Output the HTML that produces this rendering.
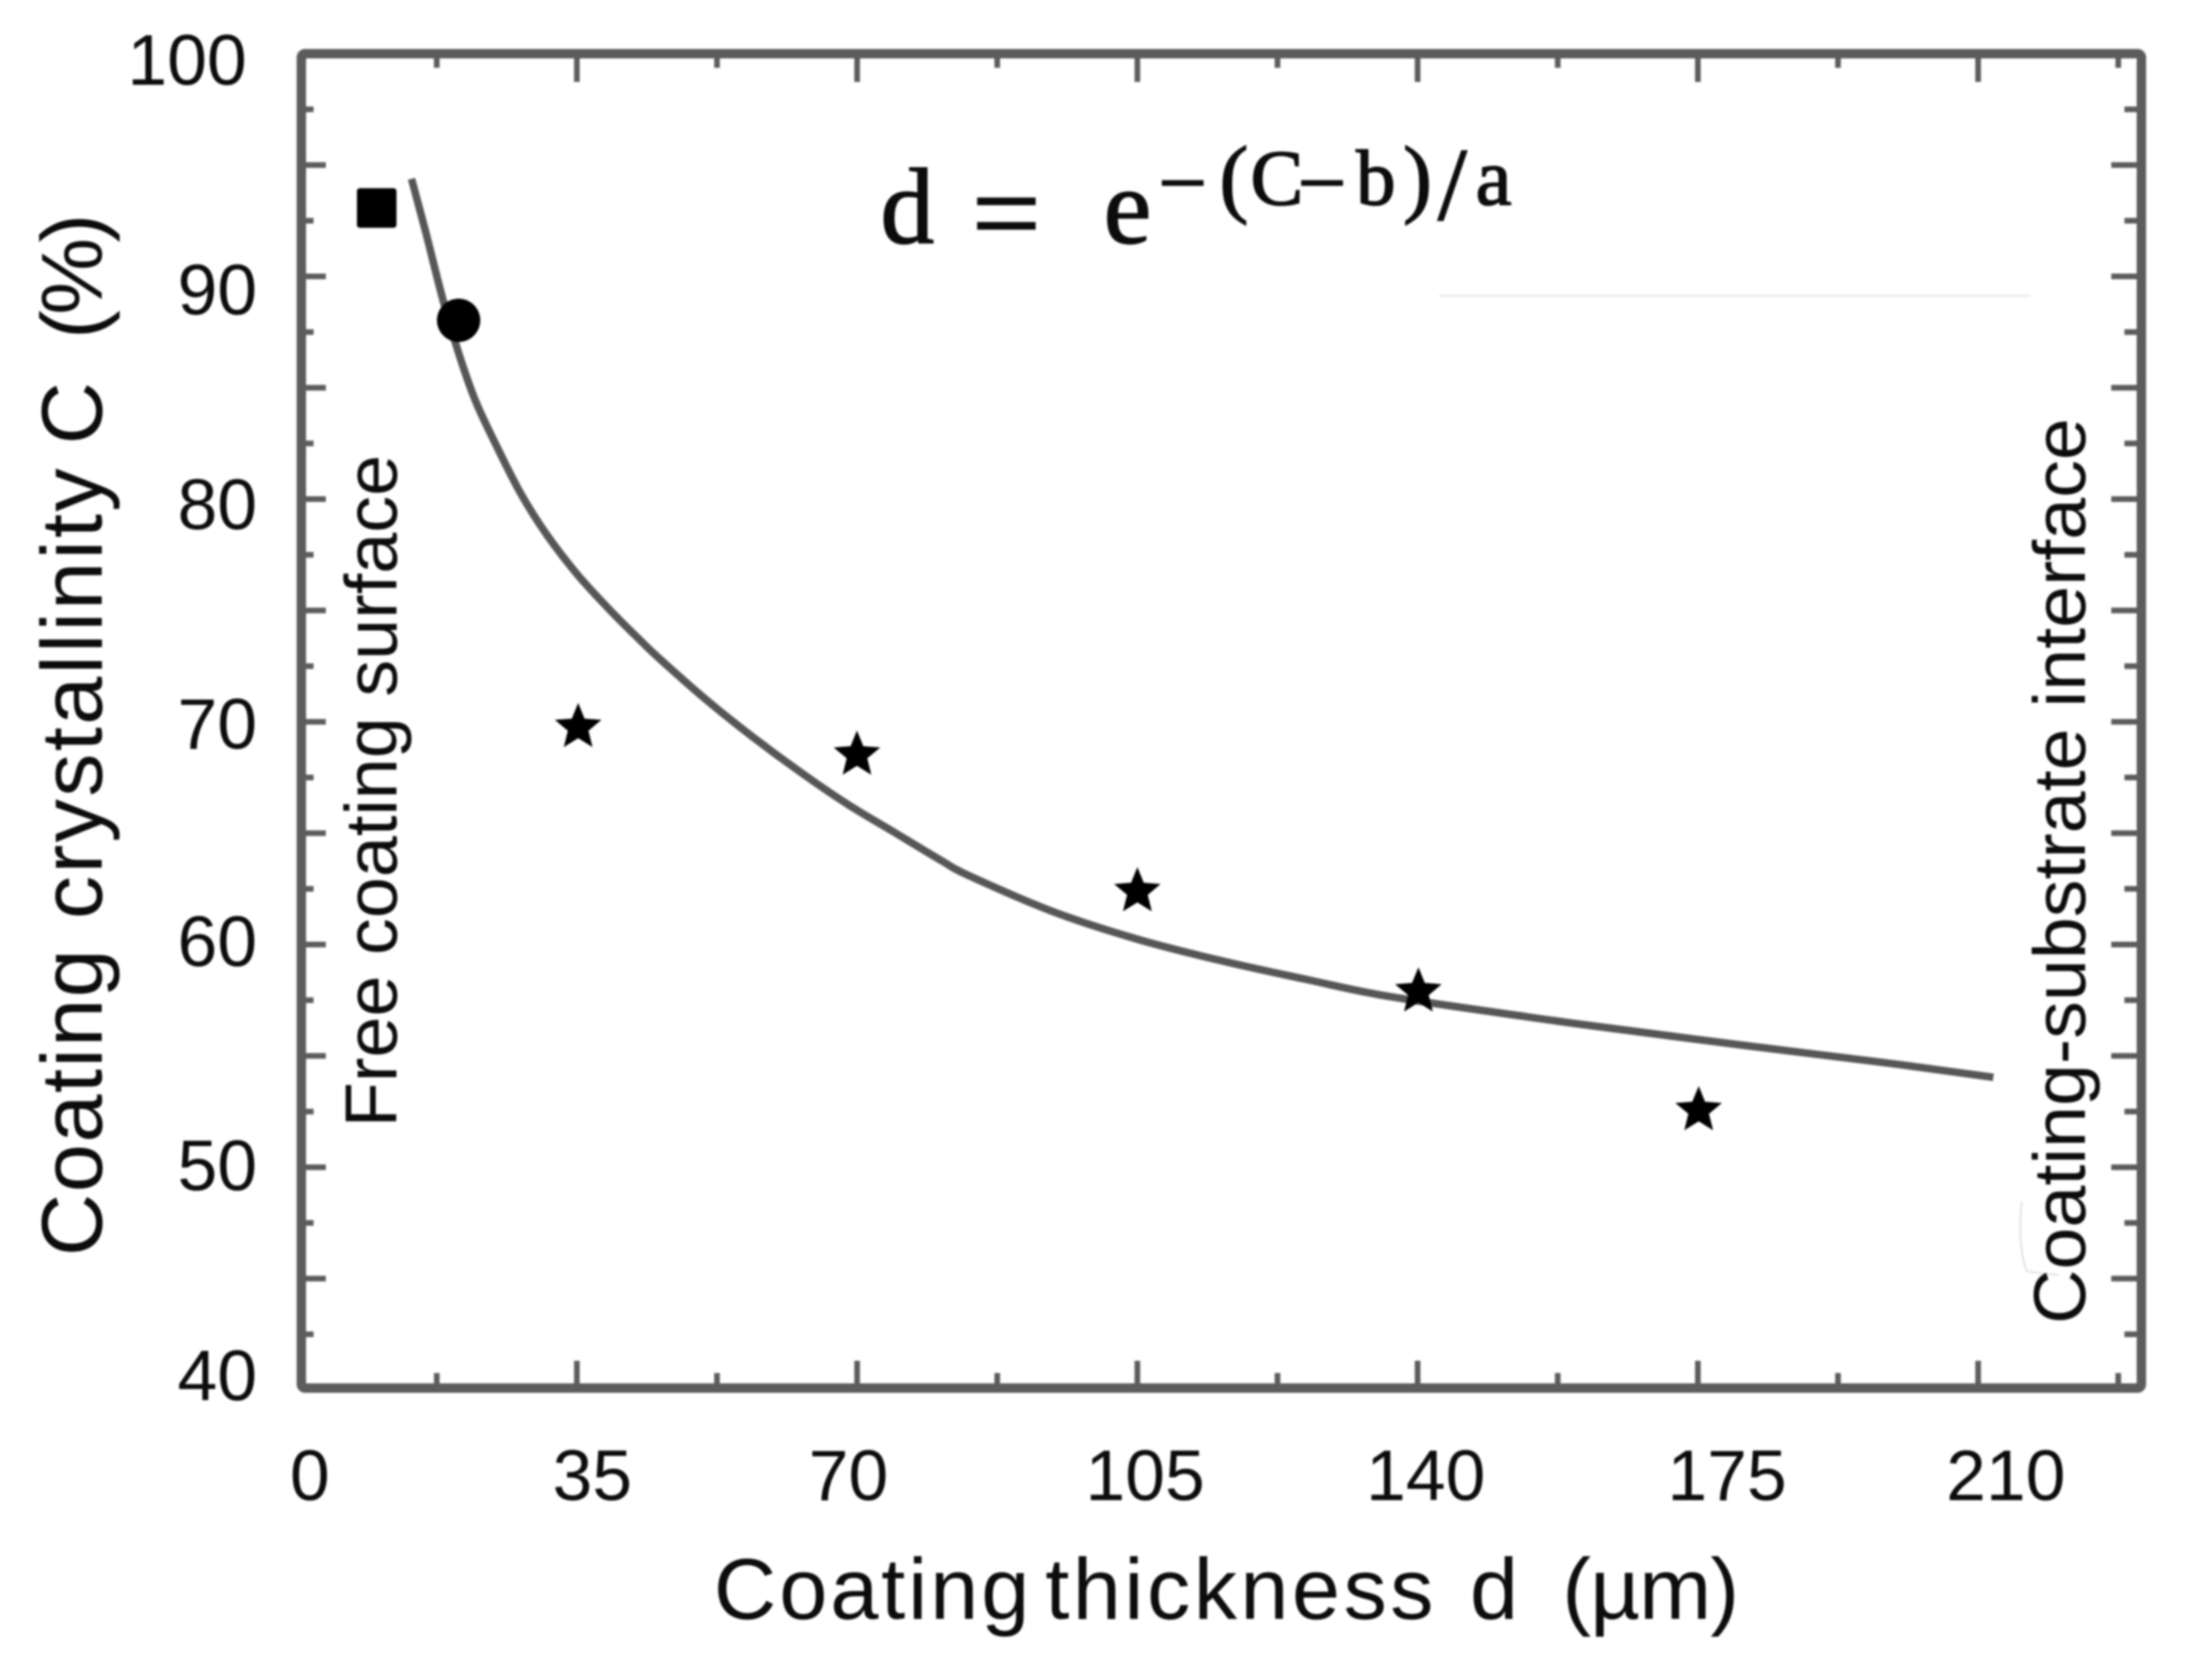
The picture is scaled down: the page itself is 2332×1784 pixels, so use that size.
<!DOCTYPE html>
<html lang="en">
<head>
<meta charset="utf-8">
<title>Coating crystallinity vs coating thickness</title>
<style>
  html, body { margin: 0; padding: 0; background: #fff; }
  body { width: 2332px; height: 1784px; overflow: hidden; }
  svg { display: block; filter: blur(1.1px); }
  text { font-family: "Liberation Sans", sans-serif; fill: #0c0c0c; }
  .formula { font-family: "Liberation Serif", serif; stroke: #0c0c0c; stroke-width: 1.6px; }
  .tick-label { font-size: 76px; }
</style>
</head>
<body>
<svg id="chart" xmlns="http://www.w3.org/2000/svg" width="2332" height="1784" viewBox="0 0 2332 1784">
  <rect x="0" y="0" width="2332" height="1784" fill="#fff"/>
  <g id="ticks"></g>
  <rect x="320" y="57" width="1954" height="1417" rx="4" fill="none" stroke="#5c5c5c" stroke-width="10"/>

  <line x1="1528" y1="314" x2="2156" y2="314" stroke="#efefef" stroke-width="3"/>
  <path d="M2147 1276 Q2142 1320 2152 1350 L2186 1354" fill="none" stroke="#e4e4e4" stroke-width="2"/>

  <g class="tick-label" text-anchor="end">
    <text x="262" y="90">100</text>
    <text x="273" y="334">90</text>
    <text x="273" y="562">80</text>
    <text x="273" y="795">70</text>
    <text x="273" y="1026">60</text>
    <text x="273" y="1264">50</text>
    <text x="273" y="1487">40</text>
  </g>
  <g class="tick-label" text-anchor="middle">
    <text x="329" y="1593">0</text>
    <text x="629" y="1593">35</text>
    <text x="901" y="1593">70</text>
    <text x="1216" y="1593">105</text>
    <text x="1514" y="1593">140</text>
    <text x="1834" y="1593">175</text>
    <text x="2130" y="1593">210</text>
  </g>

  <text y="1719" font-size="92"><tspan x="758" letter-spacing="3">Coating</tspan><tspan x="1110" letter-spacing="3.6">thickness</tspan><tspan x="1561">d</tspan><tspan x="1659" letter-spacing="-1">(µm)</tspan></text>

  <text transform="translate(108,1330) rotate(-90)" font-size="92"><tspan x="-4" letter-spacing="1.5">Coating</tspan><tspan x="354" letter-spacing="2.4">crystallinity</tspan><tspan x="858">C</tspan><tspan x="970" letter-spacing="-5">(%)</tspan></text>

  <text transform="translate(421,1197) rotate(-90)" font-size="78" textLength="714" lengthAdjust="spacingAndGlyphs">Free coating surface</text>
  <text transform="translate(2214,1406) rotate(-90)" font-size="78" textLength="962" lengthAdjust="spacingAndGlyphs">Coating-substrate interface</text>

  <text class="formula"><tspan x="935" y="258" font-size="114">d</tspan><tspan x="1032" y="270" font-size="130">=</tspan><tspan x="1172" y="258" font-size="114">e</tspan><tspan x="1230" y="225" font-size="92">−</tspan><tspan x="1295" y="219" font-size="92">(</tspan><tspan x="1328" y="217" font-size="84">C</tspan><tspan x="1378" y="225" font-size="92">−</tspan><tspan x="1440" y="217" font-size="84">b</tspan><tspan x="1490" y="219" font-size="92">)</tspan><tspan x="1527" y="233" font-size="110">/</tspan><tspan x="1567" y="217" font-size="86">a</tspan></text>

  <g id="series"></g>
</svg>
<script>
// ---- chart data ----
const xMajorTicks = [35, 70, 105, 140, 175, 210];
const xMinorTicks = [17.5, 52.5, 87.5, 122.5, 157.5, 192.5, 227.5];
const yMajorTicks = [95, 90, 85, 80, 75, 70, 65, 60, 55, 50, 45];
const yMinorTicks = [97.5, 92.5, 87.5, 82.5, 77.5, 72.5, 67.5, 62.5, 57.5, 52.5, 47.5, 42.5];

const curveThickness = [14.35, 16.23, 18.23, 20.35, 22.35, 24.93, 27.99, 31.17, 35.05, 39.05, 42.57, 45.28, 51.16, 57.04, 62.92, 68.80, 74.68, 80.56, 83.97, 94.44, 104.9, 115.4, 126.0, 136.4, 153.8, 162.9, 180.1, 198.2, 211.9];
const curveCrystallinity = [94.38, 91.84, 89.01, 86.43, 84.40, 82.41, 80.25, 78.44, 76.62, 75.05, 73.78, 72.85, 70.99, 69.30, 67.74, 66.30, 65.03, 63.76, 63.09, 61.48, 60.25, 59.28, 58.44, 57.67, 56.75, 56.30, 55.50, 54.70, 54.04];

const squareThickness = [10];
const squareCrystallinity = [93.07];
const circleThickness = [20.23];
const circleCrystallinity = [88.03];
const starThickness = [35.16, 69.98, 105.0, 140.1, 175.1];
const starCrystallinity = [69.75, 68.51, 62.38, 57.88, 52.55];

// ---- axis functions ----
function xScale(d) { return 315 + d * 8.503; }
function yScale(c) { return 57 + (100 - c) * 23.65; }

const NS = 'http://www.w3.org/2000/svg';
const ticksGroup = document.getElementById('ticks');
const seriesGroup = document.getElementById('series');

function addTick(x1, y1, x2, y2, name) {
  const tick = document.createElementNS(NS, 'line');
  tick.setAttribute('x1', x1);
  tick.setAttribute('y1', y1);
  tick.setAttribute('x2', x2);
  tick.setAttribute('y2', y2);
  tick.setAttribute('stroke', '#5c5c5c');
  tick.setAttribute('stroke-width', '6');
  
  
  ticksGroup.appendChild(tick);
}

xMajorTicks.forEach(function (v) {
  addTick(xScale(v), 1474, xScale(v), 1445, 'x-major-tick-bottom');
  addTick(xScale(v), 57, xScale(v), 87, 'x-major-tick-top');
});
xMinorTicks.forEach(function (v) {
  addTick(xScale(v), 1474, xScale(v), 1458, 'x-minor-tick-bottom');
  addTick(xScale(v), 57, xScale(v), 72, 'x-minor-tick-top');
});
yMajorTicks.forEach(function (v) {
  addTick(320, yScale(v), 346, yScale(v), 'y-major-tick-left');
  addTick(2274, yScale(v), 2242, yScale(v), 'y-major-tick-right');
});
yMinorTicks.forEach(function (v) {
  addTick(320, yScale(v), 333, yScale(v), 'y-minor-tick-left');
  addTick(2274, yScale(v), 2256, yScale(v), 'y-minor-tick-right');
});

// fitted curve: smooth path through the read points (Catmull-Rom to Bezier)
function smoothPath(xs, ys) {
  let d = 'M' + xs[0].toFixed(1) + ' ' + ys[0].toFixed(1);
  for (let i = 0; i < xs.length - 1; i++) {
    const i0 = Math.max(i - 1, 0);
    const i3 = Math.min(i + 2, xs.length - 1);
    const c1x = xs[i] + (xs[i + 1] - xs[i0]) / 6;
    const c1y = ys[i] + (ys[i + 1] - ys[i0]) / 6;
    const c2x = xs[i + 1] - (xs[i3] - xs[i]) / 6;
    const c2y = ys[i + 1] - (ys[i3] - ys[i]) / 6;
    d += 'C' + c1x.toFixed(1) + ' ' + c1y.toFixed(1) + ' ' + c2x.toFixed(1) + ' ' + c2y.toFixed(1) + ' ' + xs[i + 1].toFixed(1) + ' ' + ys[i + 1].toFixed(1);
  }
  return d;
}
const curve = document.createElementNS(NS, 'path');
curve.setAttribute('d', smoothPath(curveThickness.map(xScale), curveCrystallinity.map(yScale)));
curve.setAttribute('fill', 'none');
curve.setAttribute('stroke', '#565656');
curve.setAttribute('stroke-width', '8');
curve.setAttribute('stroke-linejoin', 'round');


seriesGroup.appendChild(curve);

// square marker
squareThickness.forEach(function (d, i) {
  const square = document.createElementNS(NS, 'rect');
  square.setAttribute('x', xScale(d) - 21);
  square.setAttribute('y', yScale(squareCrystallinity[i]) - 21);
  square.setAttribute('width', 42);
  square.setAttribute('height', 42);
  square.setAttribute('rx', 3);
  square.setAttribute('fill', '#000');
  
  
  seriesGroup.appendChild(square);
});

// circle marker
circleThickness.forEach(function (d, i) {
  const circle = document.createElementNS(NS, 'circle');
  circle.setAttribute('cx', xScale(d));
  circle.setAttribute('cy', yScale(circleCrystallinity[i]));
  circle.setAttribute('r', 23);
  circle.setAttribute('fill', '#000');
  
  
  seriesGroup.appendChild(circle);
});

// star markers
function starPoints(cx, cy, outer, inner) {
  const pts = [];
  for (let k = 0; k < 10; k++) {
    const radius = k % 2 === 0 ? outer : inner;
    const angle = -Math.PI / 2 + k * Math.PI / 5;
    pts.push((cx + radius * Math.cos(angle)).toFixed(1) + ',' + (cy + radius * Math.sin(angle)).toFixed(1));
  }
  return pts.join(' ');
}
starThickness.forEach(function (d, i) {
  const star = document.createElementNS(NS, 'polygon');
  star.setAttribute('points', starPoints(xScale(d), yScale(starCrystallinity[i]), 26, 11.5));
  star.setAttribute('fill', '#000');
  
  
  seriesGroup.appendChild(star);
});
</script>
</body>
</html>
